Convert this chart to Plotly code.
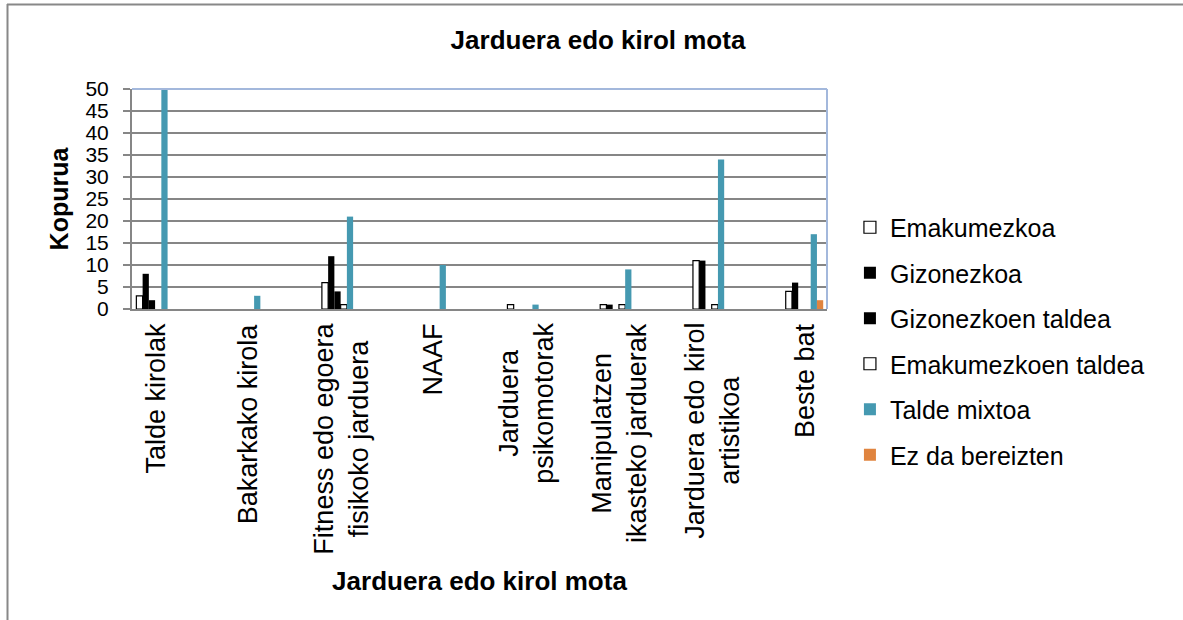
import plotly.graph_objects as go

# categories along the x axis (line breaks as in the original)
categories = [
    "Talde kirolak",
    "Bakarkako kirola",
    "Fitness edo egoera<br>fisikoko jarduera",
    "NAAF",
    "Jarduera<br>psikomotorak",
    "Manipulatzen<br>ikasteko jarduerak",
    "Jarduera edo kirol<br>artistikoa",
    "Beste bat",
]

emakumezkoa = [3, 0, 6, 0, 1, 1, 11, 4]
gizonezkoa = [8, 0, 12, 0, 0, 1, 11, 6]
gizonezkoen_taldea = [2, 0, 4, 0, 0, 0, 0, 0]
emakumezkoen_taldea = [0, 0, 1, 0, 0, 1, 1, 0]
talde_mixtoa = [50, 3, 21, 10, 1, 9, 34, 17]
ez_da_bereizten = [0, 0, 0, 0, 0, 0, 0, 2]

y_ticks = list(range(0, 55, 5))

FONT = "Liberation Sans, Arial, sans-serif"
GRID = "#868686"

series = [
    ("Emakumezkoa", emakumezkoa, "white", "black"),
    ("Gizonezkoa", gizonezkoa, "black", "black"),
    ("Gizonezkoen taldea", gizonezkoen_taldea, "black", "black"),
    ("Emakumezkoen taldea", emakumezkoen_taldea, "white", "black"),
    ("Talde mixtoa", talde_mixtoa, "#4599B1", "#4599B1"),
    ("Ez da bereizten", ez_da_bereizten, "#E0843F", "#E0843F"),
]

x_pos = list(range(len(categories)))

fig = go.Figure()
for name, vals, fill, edge in series:
    # empty cells are not drawn (otherwise outlined bars leave a flat stroke)
    fig.add_bar(x=x_pos, y=[v if v else None for v in vals], name=name, legendgroup=name,
                marker=dict(color=fill, line=dict(color=edge, width=1.2 if fill == "white" else 0)))

# rotated category labels, lines centred like the original
for i, cat in enumerate(categories):
    fig.add_annotation(x=i, y=0, xref="x", yref="paper", text=cat, textangle=-90,
                       showarrow=False, yanchor="top", xanchor="center", align="center",
                       yshift=-12, font=dict(family=FONT, size=27, color="black"))

# outer chart frame and the light blue plot border
fw, fh = 695.0, 220.0
fig.add_shape(type="line", xref="paper", yref="paper", x0=(7 - 132) / fw, x1=(1183 - 132) / fw,
              y0=(309 - 4.5) / fh, y1=(309 - 4.5) / fh, line=dict(color="#888888", width=2))
fig.add_shape(type="line", xref="paper", yref="paper", x0=(7.5 - 132) / fw, x1=(7.5 - 132) / fw,
              y0=(309 - 4) / fh, y1=(309 - 625) / fh, line=dict(color="#888888", width=2))
fig.add_shape(type="line", xref="paper", yref="paper", x0=0, x1=1, y0=1, y1=1,
              line=dict(color="#A3B8DC", width=2))
fig.add_shape(type="line", xref="paper", yref="paper", x0=1, x1=1, y0=0, y1=1,
              line=dict(color="#A3B8DC", width=2))

fig.update_layout(
    width=1183, height=620,
    margin=dict(l=132, r=356, t=89, b=311),
    paper_bgcolor="white", plot_bgcolor="white",
    barmode="group", bargap=0.596, bargroupgap=0,
    font=dict(family=FONT, color="black"),
    title=dict(text="<b>Jarduera edo kirol mota</b>", x=0.5055, xanchor="center",
               y=1 - 40 / 620, yanchor="middle", font=dict(size=26, color="black")),
    legend=dict(x=1.033, xanchor="left", y=0.475, yanchor="top", tracegroupgap=10,
                maxheight=400, font=dict(size=25, color="black"), bgcolor="rgba(0,0,0,0)"),
    showlegend=True,
)

fig.update_xaxes(range=[-0.249, 7.243], showticklabels=False, ticks="", showgrid=False,
                 showline=True, linecolor=GRID, linewidth=2, zeroline=False,
                 title=dict(text="<b>Jarduera edo kirol mota</b>", standoff=262,
                            font=dict(size=26, color="black")))
fig.update_yaxes(range=[0, 50], tickvals=y_ticks, ticks="outside", ticklen=7, tickcolor=GRID,
                 tickwidth=1.5, showgrid=True, gridcolor=GRID, gridwidth=1.5,
                 showline=True, linecolor=GRID, linewidth=2, zeroline=False,
                 ticklabelstandoff=10, tickfont=dict(size=21, color="black"),
                 title=dict(text="<b>Kopurua</b>", standoff=10, font=dict(size=25, color="black")))

# page body margin removed so the chart sits at the window corner
fig.write_html("out.html", config={"displayModeBar": False},
               post_script="document.body.style.margin='0';")
